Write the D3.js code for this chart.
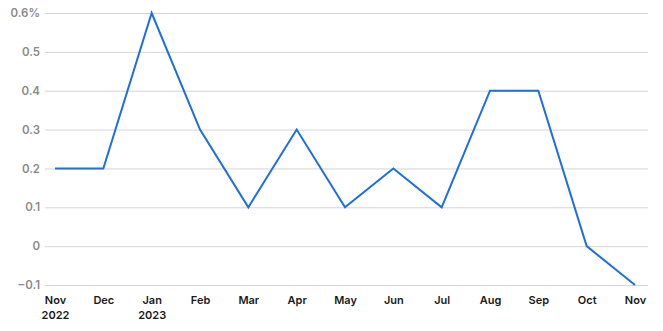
<!DOCTYPE html>
<html lang="en">
<head>
<meta charset="UTF-8">
<title>Monthly change</title>
<style>
    body { margin: 0; background: #fff; }
    #chart text { font-family: Inter, "Open Sans", sans-serif; }
</style>
<script src="https://d3js.org/d3.v7.min.js"></script>
</head>
<body>
<div id="chart"></div>
<script>
    const months = ["Nov", "Dec", "Jan", "Feb", "Mar", "Apr", "May", "Jun", "Jul", "Aug", "Sep", "Oct", "Nov"];
    const years = ["2022", "", "2023", "", "", "", "", "", "", "", "", "", ""];
    const values = [0.2, 0.2, 0.6, 0.3, 0.1, 0.3, 0.1, 0.2, 0.1, 0.4, 0.4, 0.0, -0.1];
    const yTicks = [-0.1, 0, 0.1, 0.2, 0.3, 0.4, 0.5, 0.6];

    const width = 663, height = 331;
    const margin = { top: 13, right: 28, bottom: 46, left: 55 };

    const svg = d3.select("#chart").append("svg")
        .attr("width", width)
        .attr("height", height);

    const x = d3.scalePoint()
        .domain(d3.range(months.length))
        .range([margin.left, width - margin.right]);

    const y = d3.scaleLinear()
        .domain([-0.1, 0.6])
        .range([height - margin.bottom, margin.top]);

    // gridlines + y labels
    const yAxis = d3.axisLeft(y)
        .tickValues(yTicks)
        .tickSize(-(648 - 45))
        .tickPadding(5)
        .tickFormat(function (d) {
            if (d === 0.6) return "0.6%";
            if (d < 0) return "\u2212" + Math.abs(d).toFixed(1);
            return d === 0 ? "0" : d.toFixed(1);
        });

    const gy = svg.append("g")
        .attr("transform", "translate(45,0)")
        .call(yAxis);
    gy.select(".domain").remove();
    gy.selectAll(".tick line").attr("stroke", "#d4d4d4").attr("stroke-width", 1);
    gy.selectAll(".tick text")
        .attr("fill", "#8a8a8a")
        .style("font-size", "11.5px")
        .style("font-weight", "600");

    // x labels
    const gx = svg.append("g")
        .attr("transform", `translate(0,${height - margin.bottom})`)
        .call(d3.axisBottom(x).tickSize(0).tickPadding(11).tickFormat(i => months[i]));
    gx.select(".domain").remove();
    gx.selectAll(".tick text")
        .attr("fill", "#1a1a1a")
        .style("font-size", "11px")
        .style("font-weight", "600");
    gx.selectAll(".tick").append("text")
        .attr("y", 26)
        .attr("dy", "0.71em")
        .attr("text-anchor", "middle")
        .attr("fill", "#1a1a1a")
        .style("font-size", "11px")
        .style("font-weight", "600")
        .text(i => years[i]);

    const line = d3.line()
        .x((d, i) => x(i))
        .y(d => y(d));

    svg.append("path")
        .datum(values)
        .attr("fill", "none")
        .attr("stroke", "#1a6fe3")
        .attr("stroke-width", 2)
        .attr("stroke-linejoin", "miter")
        .attr("d", line);
</script>
</body>
</html>
